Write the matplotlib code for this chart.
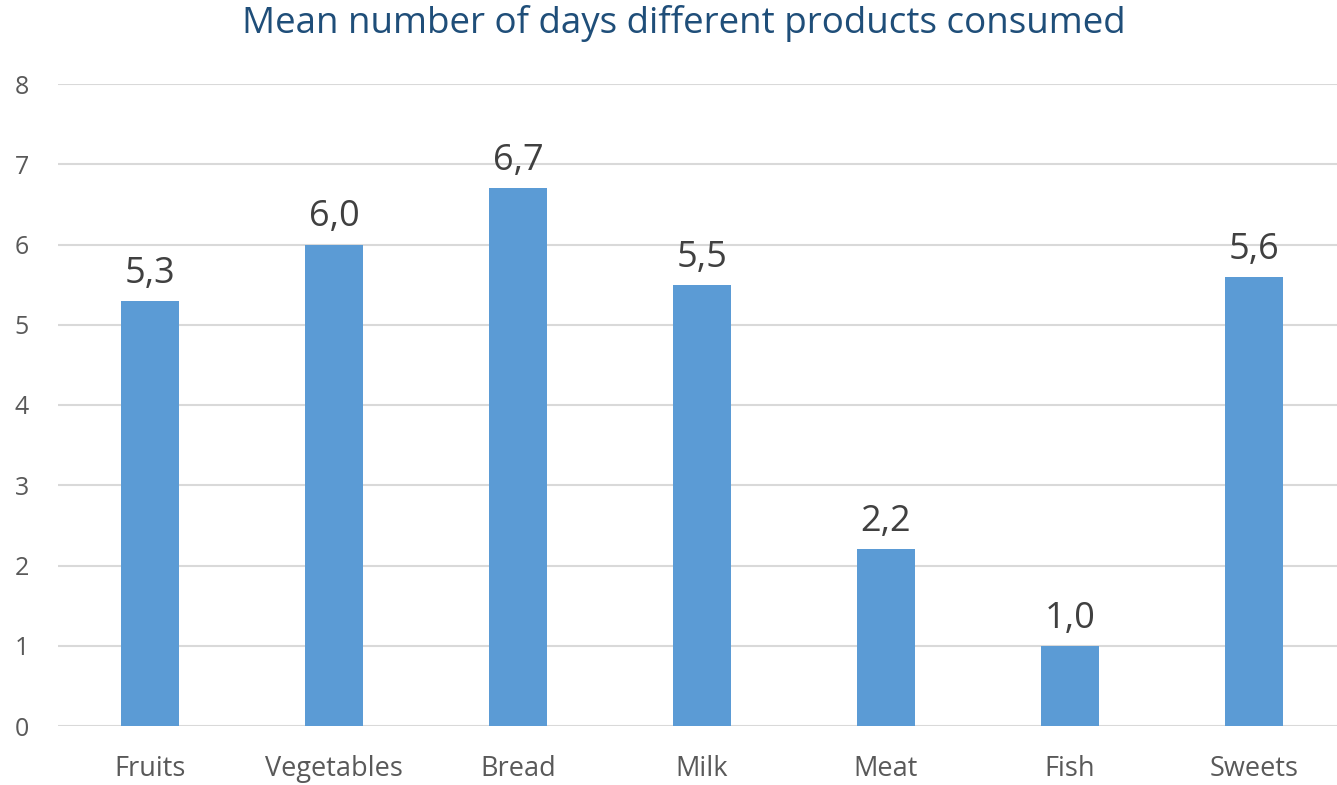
import matplotlib
matplotlib.use("Agg")
import matplotlib.pyplot as plt
import numpy as np

plt.rcParams['font.family'] = ['Open Sans', 'DejaVu Sans']

# --- dados ---
categories = ["Fruits", "Vegetables", "Bread", "Milk", "Meat", "Fish", "Sweets"]
mean_days = [5.3, 6.0, 6.7, 5.5, 2.2, 1.0, 5.6]
title = "Mean number of days different products consumed"

BAR_COLOR = "#5B9BD5"
GRID_COLOR = "#D9D9D9"
TEXT_COLOR = "#595959"
LABEL_COLOR = "#404040"
TITLE_COLOR = "#1F4E79"

fig = plt.figure(figsize=(13.37, 7.85), dpi=100)
ax = fig.add_axes([58 / 1337, 59 / 785, (1337 - 58) / 1337, 642 / 785])

x = np.arange(len(categories))
bars = ax.bar(x, mean_days, width=0.315, color=BAR_COLOR, zorder=3)

# rótulos de valor com vírgula decimal
for rect, v in zip(bars, mean_days):
    ax.annotate(f"{v:.1f}".replace(".", ","),
                xy=(rect.get_x() + rect.get_width() / 2, v),
                xytext=(0, 13), textcoords="offset points",
                ha="center", va="baseline", fontsize=26, color=LABEL_COLOR)

ax.set_ylim(0, 8)
ax.set_xlim(-0.5, (1337 - 58) / 184 - 0.5)
ax.set_yticks(range(0, 9))
ax.set_xticks(x)
ax.set_xticklabels(categories)
ax.tick_params(axis="both", length=0, colors=TEXT_COLOR)
ax.tick_params(axis="y", labelsize=18, pad=21)
ax.tick_params(axis="x", labelsize=19.5, pad=21)

ax.yaxis.grid(True, color=GRID_COLOR, linewidth=1.5, zorder=0)
for s in ax.spines.values():
    s.set_visible(False)

fig.text(684 / 1337, 1 - 24 / 785, title, ha="center", va="center",
         fontsize=26.5, color=TITLE_COLOR)

fig.savefig("out.png", dpi=100)
